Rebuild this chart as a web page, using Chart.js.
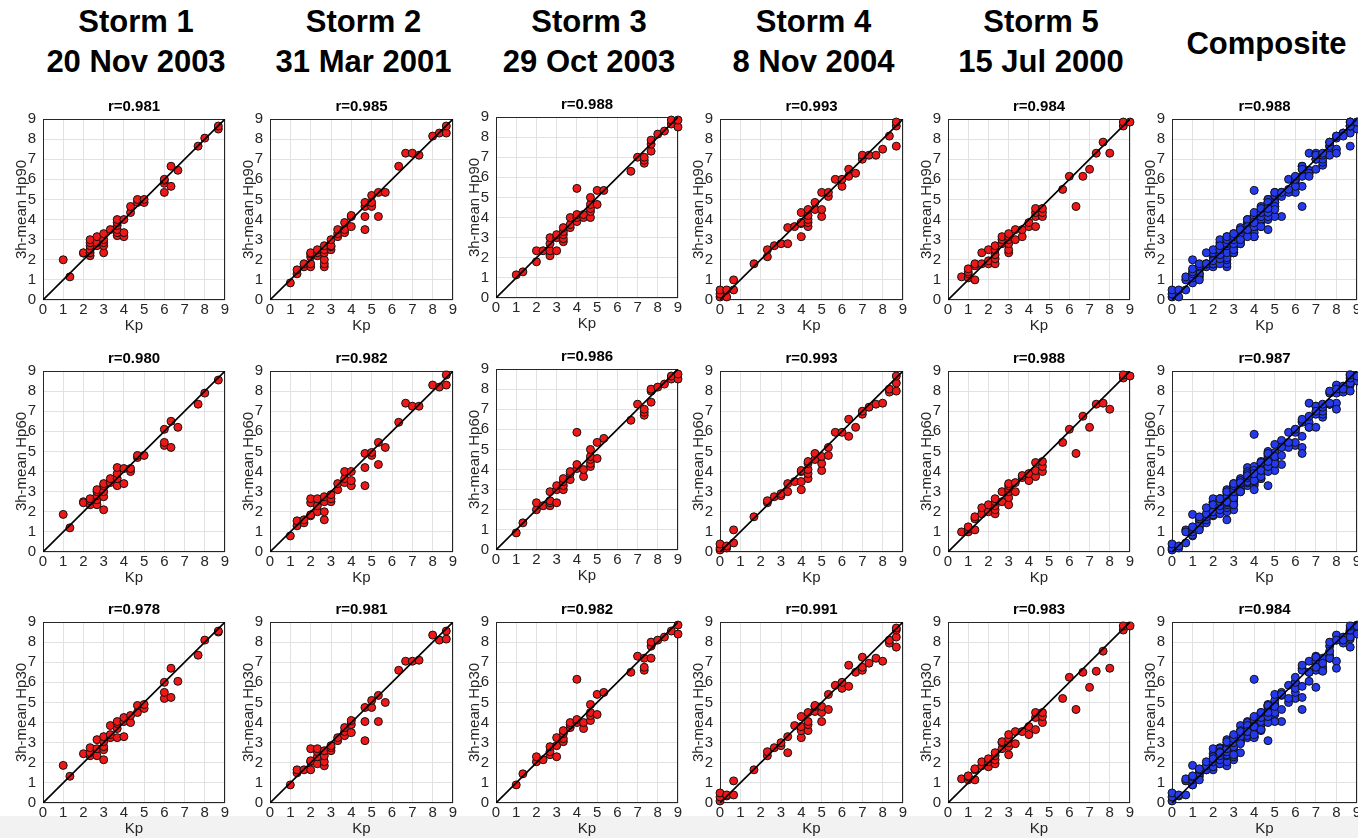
<!DOCTYPE html>
<html><head><meta charset="utf-8">
<script src="https://cdn.jsdelivr.net/npm/chart.js@4/dist/chart.umd.min.js"></script>
<style>
body{margin:0;width:1358px;height:838px;background:#fff;position:relative;overflow:hidden;font-family:"Liberation Sans",Arial,sans-serif;}
.band{position:absolute;left:0;top:816px;width:1358px;height:22px;background:#f2f2f2;}
.hdr{position:absolute;text-align:center;font-weight:bold;font-size:31px;line-height:40px;color:#000;width:260px;white-space:pre;}
canvas{position:absolute;}
</style></head><body>
<div class="band"></div>
<script>
// ---------------- DATA ----------------
const headers = ['Storm 1\n20 Nov 2003','Storm 2\n31 Mar 2001','Storm 3\n29 Oct 2003','Storm 4\n8 Nov 2004','Storm 5\n15 Jul 2000','Composite'];
const yLabels = ['3h-mean Hp90','3h-mean Hp60','3h-mean Hp30'];
const xLabel = 'Kp';
const tickValues = [0,1,2,3,4,5,6,7,8,9];
const rRow90 = ['0.981','0.985','0.988','0.993','0.984','0.988'];
const rRow60 = ['0.980','0.982','0.986','0.993','0.988','0.987'];
const rRow30 = ['0.978','0.981','0.982','0.991','0.983','0.984'];

// [Kp, 3h-mean Hp] pairs
const s1_hp90 = [[1,2.0],[1.33,1.15],[2,2.33],[2,2.35],[2.33,2.2],[2.33,2.35],[2.33,2.5],[2.33,2.7],[2.33,2.85],[2.33,3.0],[2.67,2.7],[2.67,2.85],[2.67,3.15],[3,2.35],[3,2.7],[3,2.85],[3,3.0],[3,3.3],[3.33,3.5],[3.67,3.2],[3.67,3.35],[3.67,3.5],[3.67,3.7],[3.67,3.85],[3.67,4.0],[4,3.15],[4,3.35],[4,4.0],[4.33,4.35],[4.33,4.65],[4.67,4.85],[4.67,5.0],[5,4.85],[5,5.0],[6,5.35],[6,5.8],[6,5.95],[6,6.0],[6.33,5.65],[6.33,6.65],[6.67,6.45],[7.67,7.65],[8,8.05],[8.67,8.5],[8.67,8.65]];
const s1_hp60 = [[1,1.87],[1.33,1.2],[2,2.5],[2,2.45],[2.33,2.35],[2.33,2.55],[2.33,2.65],[2.67,2.35],[2.67,2.6],[2.67,2.8],[2.67,3.0],[2.67,3.1],[3,2.1],[3,2.75],[3,3.0],[3,3.3],[3,3.4],[3.33,3.45],[3.33,3.65],[3.67,3.3],[3.67,3.65],[3.67,3.9],[3.67,4.2],[4,3.4],[4,4.15],[4.33,4.0],[4.33,4.15],[4.67,4.7],[4.67,4.8],[5,4.8],[6,5.3],[6,5.45],[6,6.1],[6.33,5.2],[6.33,6.5],[6.67,6.2],[7.67,7.35],[8,7.9],[8.67,8.55]];
const s1_hp30 = [[1,1.87],[1.33,1.33],[2,2.45],[2.33,2.35],[2.33,2.5],[2.33,2.75],[2.67,2.35],[2.67,2.7],[2.67,3.15],[3,2.15],[3,2.65],[3,2.8],[3,3.05],[3,3.3],[3.33,3.25],[3.33,3.4],[3.33,3.85],[3.67,3.25],[3.67,3.7],[3.67,3.95],[3.67,4.05],[4,3.3],[4,4.05],[4,4.25],[4.33,4.0],[4.33,4.35],[4.67,4.5],[4.67,4.85],[5,4.7],[5,4.9],[6,5.2],[6,5.5],[6,6.0],[6.33,5.25],[6.33,6.7],[6.67,6.05],[7.67,7.35],[8,8.1],[8.67,8.5],[8.67,8.55]];

const s2_hp90 = [[1,0.85],[1.33,1.3],[1.33,1.5],[1.67,1.65],[1.67,1.8],[2,1.65],[2,1.8],[2,2.15],[2,2.3],[2,2.35],[2.33,2.2],[2.33,2.35],[2.33,2.5],[2.67,1.65],[2.67,1.8],[2.67,2.0],[2.67,2.35],[2.67,2.5],[2.67,2.7],[3,2.5],[3,2.65],[3,2.7],[3,3.0],[3.33,3.15],[3.33,3.3],[3.33,3.5],[3.67,3.35],[3.67,3.5],[3.67,3.85],[4,3.65],[4,4.15],[4,4.2],[4.67,3.5],[4.67,4.15],[4.67,4.65],[4.67,4.85],[5,4.65],[5,4.85],[5,5.2],[5.33,4.15],[5.33,5.35],[5.67,5.35],[6.33,6.65],[6.67,7.3],[7,7.3],[7.33,7.2],[8,8.15],[8.33,8.3],[8.67,8.3],[8.67,8.65]];
const s2_hp60 = [[1,0.8],[1.33,1.3],[1.33,1.55],[1.67,1.45],[1.67,1.6],[2,1.8],[2,1.85],[2,2.45],[2,2.65],[2.33,2.0],[2.33,2.3],[2.33,2.65],[2.67,1.6],[2.67,2.0],[2.67,2.5],[2.67,2.75],[3,2.5],[3,2.65],[3,2.85],[3.33,3.1],[3.33,3.4],[3.67,3.45],[3.67,3.65],[3.67,4.0],[4,3.3],[4,3.55],[4,4.0],[4.67,3.3],[4.67,4.2],[4.67,4.9],[5,4.8],[5,4.95],[5.33,4.35],[5.33,5.45],[5.67,5.2],[6.33,6.45],[6.67,7.4],[7,7.25],[7.33,7.25],[8,8.3],[8.33,8.2],[8.67,8.3],[8.67,8.8]];
const s2_hp30 = [[1,0.9],[1.33,1.5],[1.33,1.65],[1.67,1.65],[2,1.65],[2,2.05],[2,2.1],[2,2.7],[2.33,1.95],[2.33,2.3],[2.33,2.55],[2.33,2.7],[2.67,1.85],[2.67,2.05],[2.67,2.35],[2.67,2.6],[3,2.6],[3,2.75],[3,2.85],[3.33,3.1],[3.33,3.25],[3.67,3.35],[3.67,3.55],[3.67,3.75],[4,3.5],[4,3.9],[4,4.1],[4.67,3.1],[4.67,4.05],[4.67,4.75],[5,4.75],[5,5.1],[5.33,4.05],[5.33,5.35],[5.67,5.0],[6.33,6.6],[6.67,7.05],[7,7.05],[7.33,7.1],[8,8.35],[8.33,8.1],[8.67,8.15],[8.67,8.55]];

const s3_hp90 = [[1,1.15],[1.33,1.3],[2,1.8],[2,2.35],[2.33,2.35],[2.67,2.1],[2.67,2.35],[2.67,2.7],[2.67,3.0],[3,2.35],[3,3.0],[3,3.15],[3.33,2.8],[3.33,2.95],[3.33,3.15],[3.33,3.3],[3.33,3.5],[3.67,3.5],[3.67,3.65],[3.67,4.0],[4,3.8],[4,4.0],[4,4.15],[4,5.45],[4.33,4.0],[4.33,4.15],[4.67,4.0],[4.67,4.3],[4.67,4.45],[4.67,4.65],[4.67,5.0],[5,4.65],[5,5.35],[5.33,5.35],[6.67,6.3],[7,7.0],[7.33,6.7],[7.33,6.85],[7.33,7.0],[7.67,7.3],[7.67,7.65],[7.67,7.85],[8,8.15],[8.33,8.3],[8.67,8.65],[8.67,8.85],[9,8.5],[9,8.85]];
const s3_hp60 = [[1,0.85],[1.33,1.35],[2,2.0],[2,2.35],[2.33,2.2],[2.67,2.2],[2.67,2.35],[2.67,2.45],[2.67,2.9],[3,2.35],[3,3.0],[3,3.2],[3.33,3.0],[3.33,3.2],[3.33,3.4],[3.33,3.55],[3.67,3.5],[3.67,3.8],[3.67,3.9],[4,4.05],[4,4.25],[4,5.85],[4.33,3.65],[4.33,4.0],[4.67,4.15],[4.67,4.3],[4.67,4.5],[4.67,4.65],[4.67,5.0],[5,4.55],[5,5.35],[5.33,5.55],[6.67,6.45],[7,7.25],[7.33,6.7],[7.33,6.85],[7.33,7.0],[7.67,7.35],[7.67,7.9],[7.67,8.0],[8,8.1],[8.33,8.25],[8.67,8.5],[8.67,8.65],[9,8.5],[9,8.75]];
const s3_hp30 = [[1,0.9],[1.33,1.45],[2,2.05],[2,2.3],[2.33,2.15],[2.67,2.4],[2.67,2.55],[2.67,2.8],[3,2.3],[3,2.85],[3,3.25],[3.33,3.05],[3.33,3.2],[3.33,3.45],[3.33,3.6],[3.67,3.75],[3.67,3.9],[3.67,4.0],[4,4.0],[4,4.15],[4,6.15],[4.33,3.7],[4.33,4.0],[4.67,4.1],[4.67,4.35],[4.67,4.5],[4.67,4.9],[5,4.4],[5,5.4],[5.33,5.5],[6.67,6.5],[7,7.3],[7.33,6.6],[7.33,6.75],[7.33,7.2],[7.67,7.2],[7.67,7.8],[7.67,8.0],[8,8.1],[8.33,8.25],[8.67,8.55],[9,8.4],[9,8.85]];

const s4_hp90 = [[0,0.15],[0,0.3],[0,0.5],[0.33,0.15],[0.33,0.5],[0.67,0.5],[0.67,1.0],[1.67,1.8],[2.33,2.15],[2.33,2.5],[2.67,2.7],[3,2.8],[3.33,2.8],[3.33,3.6],[3.67,3.65],[4,3.15],[4,3.8],[4,3.85],[4,4.35],[4.33,3.65],[4.33,3.85],[4.33,4.0],[4.33,4.2],[4.33,4.5],[4.67,4.5],[4.67,4.85],[5,4.15],[5,4.5],[5,5.35],[5.33,5.15],[5.33,5.35],[5.67,6.0],[6,5.65],[6,6.0],[6.33,6.15],[6.33,6.5],[6.67,6.3],[7,7.0],[7,7.2],[7.33,7.2],[7.67,7.2],[8,7.5],[8.33,8.15],[8.67,7.65],[8.67,8.65],[8.67,8.85]];
const s4_hp60 = [[0,0.1],[0,0.2],[0,0.4],[0.33,0.2],[0.33,0.3],[0.67,0.45],[0.67,1.1],[1.67,1.75],[2.33,2.45],[2.33,2.55],[2.67,2.75],[3,2.8],[3,2.9],[3.33,3.0],[3.33,3.4],[3.67,3.5],[4,3.1],[4,3.5],[4,4.0],[4,4.05],[4.33,3.65],[4.33,3.9],[4.33,4.1],[4.33,4.4],[4.33,4.5],[4.67,4.6],[4.67,4.9],[5,4.05],[5,4.4],[5,4.75],[5.33,4.8],[5.33,5.2],[5.67,5.95],[6,5.95],[6.33,5.75],[6.33,6.6],[6.67,6.2],[7,6.85],[7,7.0],[7.33,7.2],[7.67,7.35],[8,7.4],[8.33,7.95],[8.33,8.1],[8.67,8.0],[8.67,8.4],[8.67,8.75]];
const s4_hp30 = [[0,0.1],[0,0.3],[0,0.5],[0.33,0.35],[0.33,0.4],[0.67,0.4],[0.67,1.1],[1.67,1.65],[2.33,2.35],[2.33,2.55],[2.67,2.75],[3,2.85],[3,3.0],[3.33,2.5],[3.33,3.3],[3.67,3.85],[4,3.25],[4,3.6],[4,3.8],[4,4.3],[4.33,3.6],[4.33,3.9],[4.33,4.05],[4.33,4.5],[4.67,4.55],[4.67,4.8],[4.67,4.85],[5,4.05],[5,4.5],[5,4.8],[5.33,4.65],[5.33,5.4],[5.67,5.85],[6,5.7],[6,6.0],[6.33,5.8],[6.33,6.85],[6.67,6.5],[7,6.6],[7,6.75],[7,7.25],[7.33,6.95],[7.67,7.2],[8,7.05],[8.33,7.95],[8.33,8.1],[8.67,7.75],[8.67,8.25],[8.67,8.6],[8.67,8.7]];

const s5_hp90 = [[0.67,1.15],[1,1.1],[1,1.3],[1,1.4],[1,1.55],[1.33,1.0],[1.33,1.7],[1.33,1.8],[1.67,1.8],[1.67,2.35],[2,1.8],[2,1.95],[2,2.5],[2.33,1.8],[2.33,2.05],[2.33,2.25],[2.33,2.5],[2.33,2.7],[2.67,2.8],[2.67,3.0],[2.67,3.15],[3,2.35],[3,2.5],[3,2.8],[3,3.0],[3,3.15],[3,3.3],[3.33,3.0],[3.33,3.5],[3.67,3.15],[3.67,3.5],[4,3.65],[4,3.85],[4.33,3.65],[4.33,4.15],[4.33,4.35],[4.33,4.55],[4.67,4.15],[4.67,4.35],[4.67,4.55],[5.67,5.5],[6,6.15],[6.33,4.65],[6.67,6.15],[7,6.5],[7.33,7.3],[7.67,7.85],[8,7.3],[8.67,8.65],[8.67,8.85],[9,8.85]];
const s5_hp60 = [[0.67,1.0],[1,1.0],[1,1.15],[1,1.25],[1.33,1.1],[1.33,1.65],[1.33,1.75],[1.67,1.9],[1.67,2.2],[2,2.0],[2,2.35],[2.33,1.9],[2.33,2.1],[2.33,2.3],[2.33,2.5],[2.33,2.65],[2.67,2.5],[2.67,3.0],[3,2.35],[3,2.7],[3,3.0],[3,3.15],[3,3.3],[3,3.4],[3.33,3.0],[3.33,3.45],[3.67,3.7],[3.67,3.8],[4,3.55],[4,3.9],[4.33,3.75],[4.33,4.05],[4.33,4.45],[4.67,4.0],[4.67,4.25],[4.67,4.5],[5.67,5.45],[6,6.1],[6.33,4.9],[6.67,6.75],[7,6.2],[7.33,7.35],[7.67,7.4],[8,7.1],[8.67,8.65],[8.67,8.8],[9,8.75]];
const s5_hp30 = [[0.67,1.2],[1,1.15],[1,1.3],[1,1.35],[1.33,1.15],[1.33,1.65],[1.33,1.7],[1.67,1.85],[1.67,2.05],[2,1.8],[2,2.05],[2,2.2],[2.33,1.95],[2.33,2.15],[2.33,2.35],[2.33,2.5],[2.67,2.7],[2.67,3.0],[2.67,3.05],[3,2.4],[3,2.8],[3,3.0],[3,3.2],[3,3.4],[3.33,2.95],[3.33,3.55],[3.67,3.55],[4,3.4],[4,3.8],[4.33,3.65],[4.33,4.25],[4.33,4.5],[4.67,4.0],[4.67,4.3],[4.67,4.5],[5.67,5.2],[6,6.25],[6.33,4.65],[6.67,6.5],[7,5.75],[7.33,6.55],[7.67,7.55],[8,6.7],[8.67,8.6],[8.67,8.8],[9,8.8]];

// ---------------- LAYOUT ----------------
const FONT = '"Liberation Sans", Arial, Helvetica, sans-serif';
Chart.defaults.font.family = FONT;
const colLeft = [43, 270, 496, 720, 948, 1172];
const colW = [182, 183, 182, 183, 182, 185];
const rowTop = [119, 371, 622];
const PH = 181;
const YW = 44, TH = 26, XH = 36, RP = 8;
const AX = '#262626';

const boxPlugin = {
  id: 'box',
  beforeDatasetsDraw(chart) {
    const a = chart.chartArea, c = chart.ctx;
    c.save();
    c.strokeStyle = AX; c.lineWidth = 1;
    c.strokeRect(Math.round(a.left) + 0.5, Math.round(a.top) + 0.5, Math.round(a.right - a.left) - 1, Math.round(a.bottom - a.top) - 1);
    c.restore();
  }
};

function axisOpts(isX, title) {
  return {
    type: 'linear', min: 0, max: 9,
    afterFit(s) { if (isX) s.height = XH; else s.width = YW; },
    afterBuildTicks(s) { s.ticks = tickValues.map(v => ({value: v})); },
    ticks: {autoSkip: false, padding: isX ? 1 : 7, color: AX, font: {family: FONT, size: 15}, maxRotation: 0},
    grid: {color: '#e2e2e2', drawTicks: false, lineWidth: 1},
    border: {display: false},
    title: {display: true, text: title, color: AX, font: {family: FONT, size: 15},
            padding: isX ? {top: 0, bottom: 1} : {top: 13.7, bottom: 0}}
  };
}

function makePanel(row, col, points, color, r) {
  const left = colLeft[col];
  const top = rowTop[row] + ((col === 2 && row < 2) ? -2 : 0);
  const w = colW[col];
  const CW = YW + w + RP, CH = TH + PH + XH;
  const cv = document.createElement('canvas');
  cv.width = CW; cv.height = CH;
  cv.style.left = (left - YW) + 'px'; cv.style.top = (top - TH) + 'px';
  cv.style.width = CW + 'px'; cv.style.height = CH + 'px';
  document.body.appendChild(cv);
  new Chart(cv, {
    type: 'scatter',
    data: {datasets: [
      {data: [{x: 0, y: 0}, {x: 9, y: 9}], showLine: true, borderColor: '#000', borderWidth: 1.6, pointRadius: 0, fill: false},
      {data: points.map(p => ({x: p[0], y: p[1]})), backgroundColor: color, borderColor: '#111', borderWidth: 1, pointRadius: 4, clip: false}
    ]},
    options: {
      responsive: false, animation: false, devicePixelRatio: 1,
      events: [],
      layout: {padding: {left: 0, top: 0, right: RP, bottom: 0}},
      plugins: {
        legend: {display: false}, tooltip: {enabled: false},
        title: {display: true, text: 'r=' + r, fullSize: false, color: '#000',
                font: {family: FONT, size: 15, weight: 'bold'}, padding: {top: 5.3, bottom: 2.7}}
      },
      scales: {x: axisOpts(true, xLabel), y: axisOpts(false, yLabels[row])}
    },
    plugins: [boxPlugin]
  });
}

const rows = [
  {storms: [s1_hp90, s2_hp90, s3_hp90, s4_hp90, s5_hp90], r: rRow90},
  {storms: [s1_hp60, s2_hp60, s3_hp60, s4_hp60, s5_hp60], r: rRow60},
  {storms: [s1_hp30, s2_hp30, s3_hp30, s4_hp30, s5_hp30], r: rRow30}
];
const RED = 'rgb(238,24,24)', BLUE = 'rgb(36,58,236)';
rows.forEach((rw, ri) => {
  rw.storms.forEach((pts, ci) => makePanel(ri, ci, pts, RED, rw.r[ci]));
  const composite = [].concat(...rw.storms);
  makePanel(ri, 5, composite, BLUE, rw.r[5]);
});

headers.forEach((h, i) => {
  const d = document.createElement('div');
  d.className = 'hdr';
  d.textContent = h;
  const cx = colLeft[i] + colW[i] / 2 + 2;
  d.style.left = (cx - 130) + 'px';
  d.style.top = (h.includes('\n') ? 2 : 24) + 'px';
  document.body.appendChild(d);
});
</script>
</body></html>
